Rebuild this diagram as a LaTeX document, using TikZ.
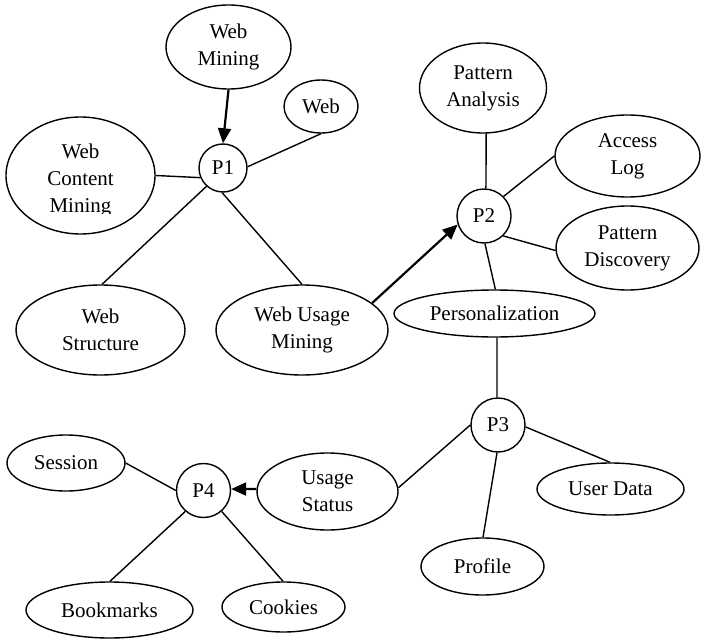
\documentclass[tikz,border=0pt]{standalone}
\usepackage{fontspec}
\setmainfont{Liberation Serif}
\usetikzlibrary{shapes.geometric,arrows.meta}
\begin{document}
\begin{tikzpicture}[x=1pt,y=-1pt,
  txt/.style={font=\fontsize{21}{27}\selectfont,align=center,inner sep=0pt},
  ell/.style={ellipse,draw,line width=1.4pt,inner sep=0pt,txt},
  pcirc/.style={circle,draw,line width=1.4pt,inner sep=0pt,minimum size=54pt,txt},
  link/.style={line width=1.4pt},
  arr/.style={line width=2.2pt,-{Triangle[length=15pt,width=13pt]}},
]
\useasboundingbox (0,0) rectangle (701,639);

% P1 cluster
\node[ell,minimum width=125pt,minimum height=84pt] (wm) at (228.5,47) {Web\\Mining};
\node[ell,minimum width=74pt,minimum height=53pt] (web) at (321,106.5) {Web};
\node[ell,minimum width=149pt,minimum height=117pt] (wcm) at (80.5,175.5) {};
\begin{scope}
  \clip (0,100) rectangle (160,213);
  \node[txt] (wcmlabel) at (80.5,180) {Web\\Content\\Mining};
\end{scope}
\node[pcirc,minimum size=48pt] (p1) at (223,168) {P1};
\node[ell,minimum width=169pt,minimum height=90pt] (ws) at (100.5,330) {Web\\Structure};
\node[ell,minimum width=172pt,minimum height=90pt] (wum) at (302,330) {Web Usage\\Mining};

% P2 cluster
\node[ell,minimum width=127pt,minimum height=90pt] (pa) at (483,88) {Pattern\\Analysis};
\node[ell,minimum width=145pt,minimum height=82pt] (al) at (627.5,156) {Access\\Log};
\node[pcirc] (p2) at (484,216) {P2};
\node[ell,minimum width=143pt,minimum height=84pt] (pd) at (627.5,248) {Pattern\\Discovery};
\node[ell,minimum width=201pt,minimum height=47pt] (pers) at (494.5,313.5) {Personalization};

% P3 cluster
\node[pcirc] (p3) at (498,425) {P3};
\node[ell,minimum width=147pt,minimum height=52pt] (ud) at (610.5,489) {User Data};
\node[ell,minimum width=123pt,minimum height=57pt] (prof) at (482.5,566.5) {Profile};
\node[ell,minimum width=141pt,minimum height=77pt] (us) at (327.5,491.5) {Usage\\Status};

% P4 cluster
\node[pcirc] (p4) at (203.5,490.5) {P4};
\node[ell,minimum width=118pt,minimum height=56pt] (sess) at (66,463) {Session};
\node[ell,minimum width=167pt,minimum height=56pt] (bm) at (109.5,610) {Bookmarks};
\node[ell,minimum width=123pt,minimum height=50pt] (cook) at (283.5,607) {Cookies};

% connectors
\draw[arr] (wm.-90) -- (p1.90);
\draw[link] (web.-90) -- (p1.3);
\draw[link] (wcm.0) -- (p1.203);
\draw[link] (p1.228) -- (ws.88);
\draw[link] (p1.-92) -- (wum.90);
\draw[arr] (wum.21) -- (p2.198);

\draw[link] (pa.-86) -- (p2.86);
\draw[link] (p2.45) -- (al.180);
\draw[link] (p2.-46) -- (pd.182);
\draw[link] (p2.-88) -- (pers.88);

\draw[link] (pers.-84) -- (p3.92);
\draw[link] (p3.-4) -- (ud.91);
\draw[link] (p3.-92) -- (prof.89);
\draw[link] (p3.180) -- (us.3);

\draw[arr] (us.178) -- (p4.3);
\draw[link] (sess.0) -- (p4.180);
\draw[link] (p4.229) -- (bm.89);
\draw[link] (p4.-49) -- (cook.91);
\end{tikzpicture}
\end{document}
